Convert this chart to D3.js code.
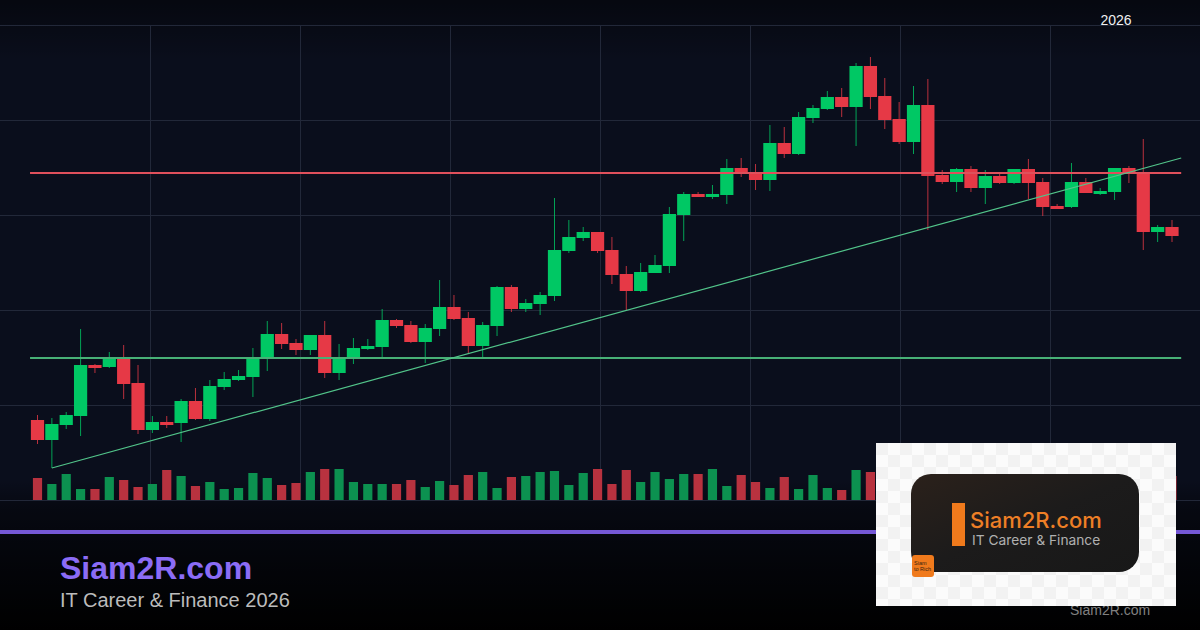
<!DOCTYPE html>
<html>
<head>
<meta charset="utf-8">
<script src="https://cdn.jsdelivr.net/npm/d3@7.9.0/dist/d3.min.js"></script>
<style>
  html, body { margin: 0; padding: 0; background: #0a0e1c; overflow: hidden; }
  svg { display: block; font-family: "Liberation Sans", Arial, sans-serif; }
</style>
</head>
<body>
<svg id="chart" width="1200" height="630"></svg>
<script>
// candle data, one entry per session
const opens = [80,60,75,84,135,133,142,117,70,78,77,99,81,113,120,123,142,166,157,150,
  165,127,142,151,153,180,175,158,171,193,182,154,174,213,191,196,204,249,262,268,
  250,226,209,227,234,285,306,303,305,332,328,320,357,346,382,391,403,393,434,404,
  381,358,395,325,318,331,312,324,317,331,318,294,293,318,306,308,332,327,268,273];
const closes = [60,76,85,135,132,142,116,70,78,75,99,81,114,121,124,142,166,156,150,165,
  127,142,152,154,180,174,158,172,193,181,154,175,213,191,197,205,250,263,268,249,
  225,209,228,235,286,306,303,306,332,327,320,357,346,383,392,403,393,434,403,380,
  358,395,324,318,331,312,324,317,331,317,293,291,318,307,309,332,327,268,273,264];
const highs = [85,82,88,171,136,148,155,135,84,84,101,112,120,128,130,152,179,177,161,165,
  179,156,162,161,191,181,179,176,220,205,188,178,214,215,201,208,302,280,273,268,
  263,234,237,245,293,308,308,315,341,342,336,375,373,388,395,409,412,437,443,422,
  398,414,421,330,332,334,330,326,331,341,322,296,337,322,312,332,334,361,275,280];
const lows = [56,32,71,64,127,132,101,66,67,72,58,80,79,110,119,103,129,151,145,145,
  122,120,136,150,142,172,157,137,164,180,146,142,164,188,188,185,199,247,259,247,
  216,190,208,227,227,259,303,301,296,323,310,309,342,345,377,390,383,354,391,371,
  356,346,270,316,308,308,296,316,316,301,284,291,292,307,305,300,317,250,258,258];
const volumes = [22,16,26,11,11,23,20,13,16,30,24,14,18,11,12,27,22,15,17,28,
  31,31,18,16,16,16,20,13,19,15,25,28,12,23,24,28,29,15,27,31,
  16,30,18,28,21,26,26,31,14,25,18,12,23,11,25,12,10,30,28,22,
  18,26,30,14,16,20,12,15,22,18,24,12,26,14,20,13,16,28,14,24];

// levels and trendline, in price units
const gridPrices = [0,95,190,285,380,475];
const gridSlots = [1,2,3,4,5,6,7];
const resistance = 327;
const support = 142;
const levelSpan = [-0.52, 79.64];
const trendIdx = [1, 79.64];
const trendPrice = [32, 342];

const green = '#00c864';
const red = '#e63946';

const svg = d3.select('#chart');
const defs = svg.append('defs');

// darkens toward the footer and the very top
const fade = defs.append('linearGradient').attr('id', 'fade').attr('x1', 0).attr('x2', 0).attr('y1', 0).attr('y2', 1);
fade.append('stop').attr('offset', 0).attr('stop-color', '#000').attr('stop-opacity', 0);
fade.append('stop').attr('offset', 0.2).attr('stop-color', '#000').attr('stop-opacity', 0.4);
fade.append('stop').attr('offset', 1).attr('stop-color', '#000').attr('stop-opacity', 1);
const topFade = defs.append('linearGradient').attr('id', 'topFade').attr('x1', 0).attr('x2', 0).attr('y1', 0).attr('y2', 1);
topFade.append('stop').attr('offset', 0).attr('stop-color', '#000').attr('stop-opacity', 0.45);
topFade.append('stop').attr('offset', 1).attr('stop-color', '#000').attr('stop-opacity', 0);

const card = defs.append('linearGradient').attr('id', 'card').attr('x1', 0).attr('x2', 1).attr('y1', 0).attr('y2', 1);
card.append('stop').attr('offset', 0).attr('stop-color', '#2b211b');
card.append('stop').attr('offset', 0.5).attr('stop-color', '#1c1b1b');
card.append('stop').attr('offset', 1).attr('stop-color', '#181818');

const checks = defs.append('pattern').attr('id', 'checks').attr('width', 24).attr('height', 24)
  .attr('patternUnits', 'userSpaceOnUse').attr('x', 876).attr('y', 443);
checks.append('rect').attr('width', 24).attr('height', 24).attr('fill', '#fbfbfb');
checks.append('rect').attr('width', 12).attr('height', 12).attr('fill', '#f2f2f2');
checks.append('rect').attr('x', 12).attr('y', 12).attr('width', 12).attr('height', 12).attr('fill', '#f2f2f2');

svg.append('rect').attr('width', 1200).attr('height', 630).attr('fill', '#0a0e1c');
svg.append('rect').attr('width', 1200).attr('height', 60).attr('fill', 'url(#topFade)');
svg.append('rect').attr('y', 480).attr('width', 1200).attr('height', 150).attr('fill', 'url(#fade)');

// scales
const x = d3.scaleLinear().domain([0, 79]).range([37.5, 1172]);
const y = d3.scaleLinear().domain([0, 500]).range([500, 0]);
const gridX = d3.scalePoint().domain(d3.range(9)).range([0, 1200]);
const slot = x(1) - x(0);

// grid, drawn with axes
const gridColor = '#222839';
const hGrid = svg.append('g').attr('transform', 'translate(1200,0)')
  .call(d3.axisLeft(y).tickValues(gridPrices).tickSize(1200).tickFormat(''));
const vGrid = svg.append('g').attr('transform', 'translate(0,500)')
  .call(d3.axisBottom(gridX).tickValues(gridSlots).tickSize(-475).tickFormat(''));
[hGrid, vGrid].forEach((g) => {
  g.select('.domain').remove();
  g.selectAll('line').attr('stroke', gridColor);
});

// volume
svg.append('g').selectAll('rect').data(volumes).join('rect')
  .attr('x', (d, i) => x(i) - slot * 0.32)
  .attr('width', slot * 0.64)
  .attr('y', (d) => y(d))
  .attr('height', (d) => y(0) - y(d))
  .attr('fill', (d, i) => (closes[i] >= opens[i] ? '#0c9150' : '#b8323f'));

// candles
const candles = svg.append('g').selectAll('g').data(opens).join('g');
candles.append('line')
  .attr('x1', (d, i) => x(i))
  .attr('x2', (d, i) => x(i))
  .attr('y1', (d, i) => y(highs[i]))
  .attr('y2', (d, i) => y(lows[i]))
  .attr('stroke', (d, i) => (closes[i] >= opens[i] ? green : red))
  .attr('stroke-opacity', 0.8)
  .attr('stroke-width', 1);
candles.append('rect')
  .attr('x', (d, i) => x(i) - slot * 0.46)
  .attr('width', slot * 0.92)
  .attr('y', (d, i) => y(Math.max(opens[i], closes[i])))
  .attr('height', (d, i) => Math.abs(y(opens[i]) - y(closes[i])))
  .attr('fill', (d, i) => (closes[i] >= opens[i] ? green : red));

// levels
svg.append('path')
  .attr('d', `M${x(levelSpan[0])},${y(resistance)}H${x(levelSpan[1])}`)
  .attr('stroke', '#e0505c').attr('stroke-width', 2);
svg.append('path')
  .attr('d', `M${x(levelSpan[0])},${y(support)}H${x(levelSpan[1])}`)
  .attr('stroke', '#47b076').attr('stroke-width', 2);

// trendline
const trend = d3.line().x((d) => x(d)).y((d, i) => y(trendPrice[i]));
svg.append('path')
  .attr('d', trend(trendIdx))
  .attr('fill', 'none')
  .attr('stroke', '#52c48a')
  .attr('stroke-width', 1.2);

svg.append('text').attr('x', 1116).attr('y', 25).attr('text-anchor', 'middle')
  .attr('font-size', 14).attr('fill', '#f0f0f0').text('2026');

// footer
svg.append('rect').attr('y', 530).attr('width', 1200).attr('height', 4).attr('fill', '#7558d6');
svg.append('text').attr('x', 60).attr('y', 579).attr('font-size', 32).attr('font-weight', 700)
  .attr('fill', '#8b6cf6').text('Siam2R.com');
svg.append('text').attr('x', 60).attr('y', 607).attr('font-size', 20)
  .attr('fill', '#bcbcbc').text('IT Career & Finance 2026');
svg.append('text').attr('x', 1070).attr('y', 615).attr('font-size', 14)
  .attr('fill', '#808080').text('Siam2R.com');

// logo card pasted on top
const logo = svg.append('g');
logo.append('rect').attr('x', 876).attr('y', 443).attr('width', 300).attr('height', 163).attr('fill', 'url(#checks)');
logo.append('rect').attr('x', 911).attr('y', 474).attr('width', 228).attr('height', 98).attr('rx', 20).attr('fill', 'url(#card)');
logo.append('rect').attr('x', 952).attr('y', 503).attr('width', 13).attr('height', 43).attr('fill', '#f07a1c');
logo.append('text').attr('x', 970).attr('y', 528).attr('font-family', 'Inter').attr('font-size', 22)
  .attr('font-weight', 500).attr('fill', '#ee7f26').text('Siam2R.com');
logo.append('text').attr('x', 972).attr('y', 545).attr('font-family', 'Inter').attr('font-size', 13.75)
  .attr('fill', '#b0b0b0').text('IT Career & Finance');
logo.append('rect').attr('x', 912).attr('y', 555).attr('width', 22).attr('height', 22).attr('rx', 3).attr('fill', '#f07a1c');
logo.append('text').attr('x', 914).attr('y', 565).attr('font-size', 5.5).attr('fill', '#3a2410').text('Siam');
logo.append('text').attr('x', 914).attr('y', 571).attr('font-size', 5.5).attr('fill', '#3a2410').text('to Rich');
</script>
</body>
</html>
